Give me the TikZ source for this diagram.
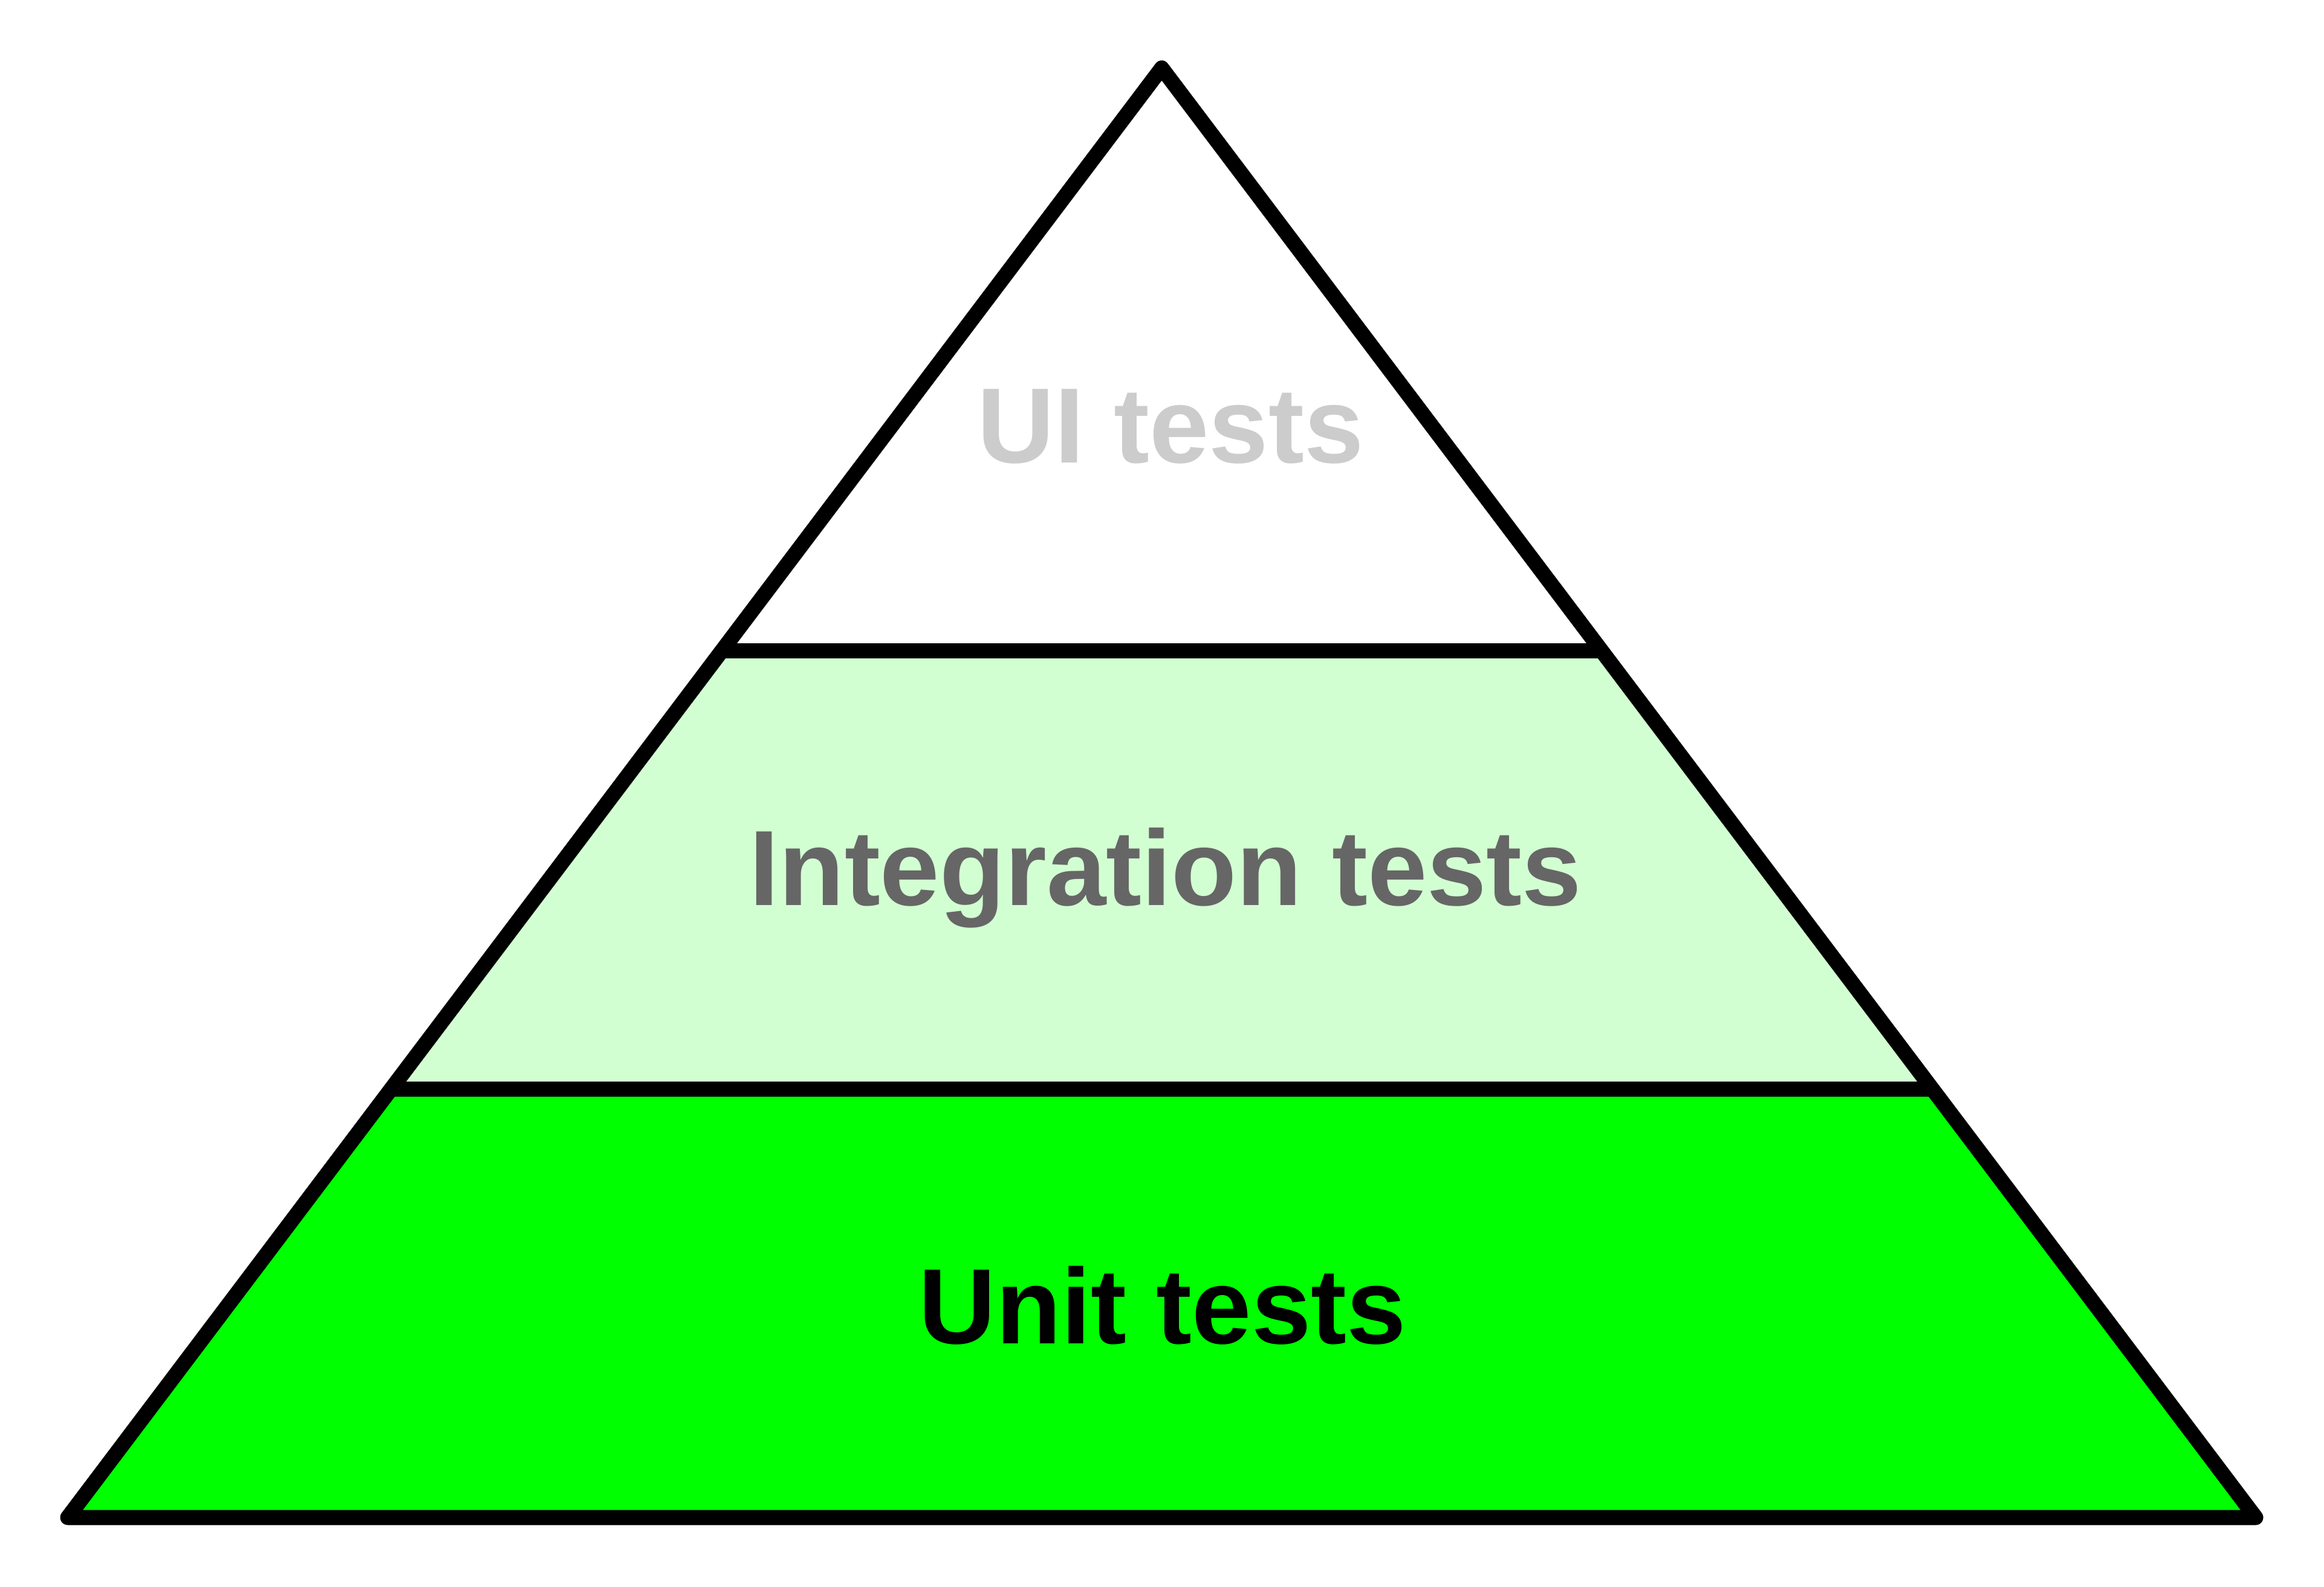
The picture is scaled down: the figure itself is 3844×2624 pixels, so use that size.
\documentclass[tikz,border=0pt]{standalone}
\usepackage{fontspec}
\setmainfont{Liberation Sans}
\usetikzlibrary{calc}

\begin{document}
\begin{tikzpicture}[
    x=0.005cm, y=0.005cm,
    edge/.style={line width=3.56pt, line join=round, line cap=round, black},
    tier/.style={font=\bfseries\fontsize{25.2}{30}\selectfont, anchor=base, inner sep=0pt}
]
\definecolor{unitgreen}{RGB}{0,255,0}
\definecolor{midgreen}{RGB}{210,255,210}
\useasboundingbox (0,0) rectangle (3844,2624);

\coordinate (bl) at (112,114);
\coordinate (br) at (3731,114);
\coordinate (apex) at (1921.5,2511.5);
\coordinate (l2) at ($(bl)!0.2955!(apex)$);
\coordinate (r2) at ($(br)!0.2955!(apex)$);
\coordinate (l1) at ($(bl)!0.5979!(apex)$);
\coordinate (r1) at ($(br)!0.5979!(apex)$);

% layers
\fill[unitgreen] (bl) -- (br) -- (r2) -- (l2) -- cycle;
\fill[midgreen] (l2) -- (r2) -- (r1) -- (l1) -- cycle;

% outline and dividers
\draw[edge] (bl) -- (br) -- (apex) -- cycle;
\draw[edge, line cap=butt] (l1) -- (r1);
\draw[edge, line cap=butt] (l2) -- (r2);

\node[tier, text={rgb,255:red,204;green,204;blue,204}] (ui) at (1936,1858) {UI tests};
\node[tier, text={rgb,255:red,102;green,102;blue,102}] (integ) at (1928,1126) {Integration tests};
\node[tier, text=black] (unit) at (1923,402) {Unit tests};
\end{tikzpicture}
\end{document}
